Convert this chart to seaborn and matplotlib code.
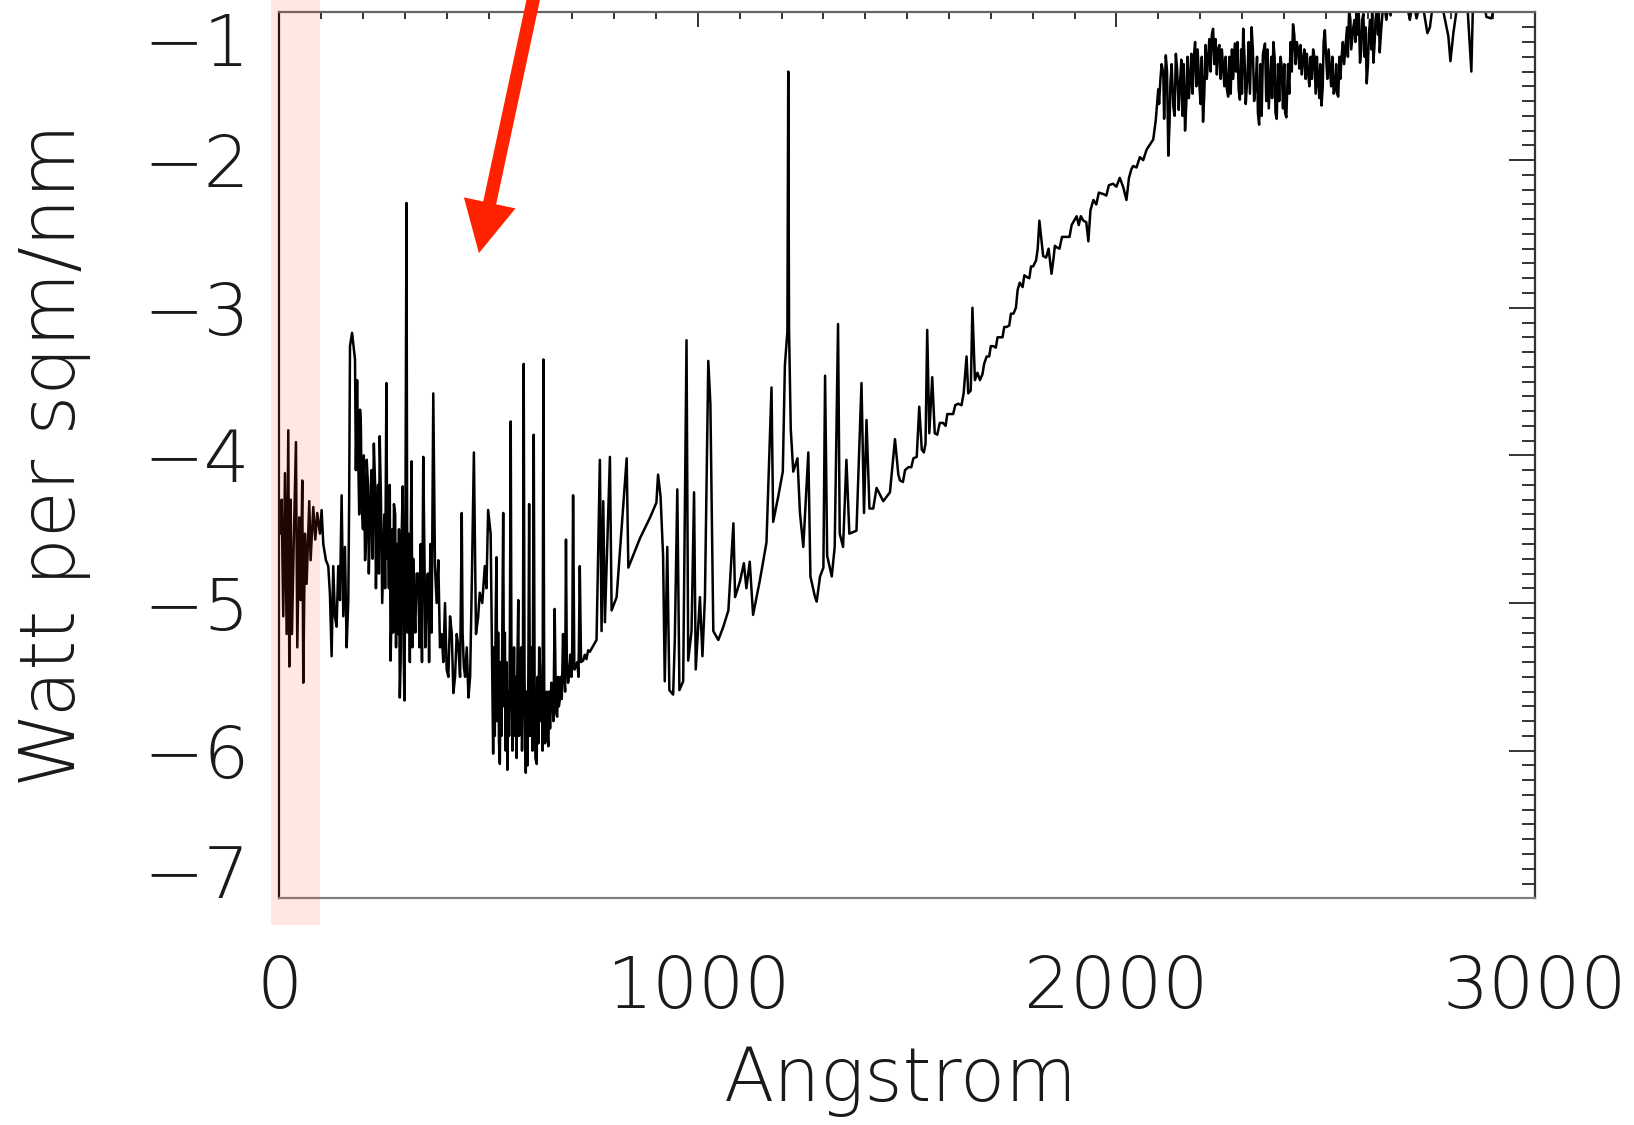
import numpy as np
import matplotlib
matplotlib.use("Agg")
import matplotlib.pyplot as plt
import matplotlib.font_manager as fm
import seaborn as sns
from matplotlib.patches import Rectangle

# ---------------- data ----------------
# wavelength in Angstrom, log10 irradiance (W per m^2 per nm)
wl_xray = [1.7, 5.7, 9.6, 13.6, 17.6, 21.6, 24, 27.2, 30.3, 35.1, 39.9, 43.1, 47.8, 51, 55,
           57.4, 61.4, 65.4, 71.7, 74.9, 81.3, 86.1, 90.8, 97.2, 101.2, 105.2, 111.5, 117.1,
           121.1, 125.1, 129, 133, 137, 141, 145, 149, 153, 157, 161, 165, 167]
fl_xray = [-4.53, -4.30, -5.09, -4.12, -5.21, -3.83, -5.43, -4.30, -5.21, -4.53, -3.91, -5.30,
           -4.42, -4.98, -4.17, -5.54, -4.53, -4.87, -4.31, -4.71, -4.35, -4.57, -4.39, -4.53,
           -4.37, -4.60, -4.71, -4.75, -4.94, -5.36, -4.75, -5.09, -5.16, -4.75, -4.98, -4.27,
           -5.09, -4.62, -5.30, -4.98, -4.30]

wl_euv = [169, 174, 181, 186, 193, 197, 205, 209, 217, 226, 233, 240, 248, 256, 260, 266, 274,
          284, 288, 295, 299, 304, 308, 316, 322, 332, 344, 352, 368, 372, 380, 388, 400, 408,
          416, 424, 436, 441, 452, 460, 465, 470, 479, 491, 499, 505, 511, 519, 527, 535, 545,
          553, 559, 571, 576, 584, 589, 597, 603, 608, 615, 623, 631, 637, 643, 650, 658, 664,
          670, 678, 685, 690, 702, 709, 718, 726, 738,
          183, 188, 191, 195, 200, 202, 207, 212, 214, 220, 223, 229, 231, 236, 238, 243, 246,
          251, 253, 258, 262, 264, 268, 270, 272, 277, 279, 281, 286, 290, 292, 297, 301, 306,
          310, 312, 314, 318, 320, 325, 328, 335, 338, 341, 347, 349, 355, 358, 361, 364, 376,
          384, 392, 396, 404, 412, 420, 428, 432, 438, 444, 448, 456, 475, 485, 495,
          513, 515, 517, 521, 523, 525, 529, 531, 533, 537, 539, 541, 543, 547, 549, 551, 555,
          557, 561, 563, 565, 567, 569, 573, 578, 580, 582, 586, 591, 593, 595, 599, 601, 605,
          610, 612, 617, 619, 621, 625, 627, 629, 633, 635, 639, 641, 645, 647, 652, 655, 660,
          662, 666, 668, 672, 675, 680, 683, 687, 692, 695, 698, 700, 705, 712, 715, 721, 730, 734]
fl_euv = [-3.26, -3.17, -3.35, -3.49, -3.69, -4.30, -4.71, -4.03, -4.42, -3.92, -4.53, -3.87,
          -4.75, -3.51, -4.53, -5.39, -4.33, -5.21, -5.64, -4.21, -5.66, -2.29, -4.53, -4.04,
          -4.98, -4.80, -4.01, -4.93, -3.58, -4.75, -4.71, -5.21, -5.45, -5.09, -5.61, -5.21,
          -4.39, -5.43, -5.64, -4.87, -3.98, -5.21, -4.93, -4.75, -4.37, -4.53, -6.02, -4.69,
          -6.09, -4.39, -6.13, -3.77, -5.66, -4.98, -5.88, -3.38, -6.15, -4.33, -5.77, -3.86,
          -6.09, -5.43, -3.35, -5.88, -5.97, -5.54, -5.04, -5.77, -5.66, -5.21, -4.57, -5.54,
          -4.27, -5.43, -4.75, -5.39, -5.32,
          -4.1, -3.9, -4.4, -3.8, -4.5, -4.0, -4.6, -4.2, -4.8, -4.1, -4.7, -4.2, -4.9, -4.2,
          -4.8, -4.3, -5.0, -4.4, -4.9, -4.7, -4.9, -4.2, -5.1, -4.5, -5.2, -4.4, -5.3, -4.6,
          -4.5, -5.4, -4.6, -5.3, -4.8, -5.2, -4.8, -5.4, -4.6, -5.3, -4.7, -5.2, -4.8, -5.3,
          -4.6, -5.4, -4.7, -5.3, -4.8, -5.4, -4.6, -5.2, -5.0, -5.3, -5.4, -5.0, -5.5, -5.2,
          -5.5, -5.3, -5.5, -5.2, -5.5, -5.3, -5.5, -5.1, -5.0, -4.9,
          -5.3, -5.9, -5.1, -5.8, -5.2, -5.95, -5.4, -5.9, -5.1, -5.7, -5.2, -6.0, -5.4, -5.6,
          -5.9, -5.2, -5.6, -6.0, -5.3, -5.9, -5.5, -6.05, -5.4, -5.9, -5.3, -6.0, -5.6, -5.5,
          -5.6, -6.1, -5.5, -5.9, -5.3, -6.0, -5.5, -6.05, -5.5, -5.95, -5.3, -5.8, -5.5, -6.0,
          -5.6, -5.95, -5.6, -5.9, -5.6, -5.85, -5.6, -5.8, -5.5, -5.75, -5.5, -5.7, -5.5, -5.65,
          -5.45, -5.6, -5.4, -5.5, -5.35, -5.5, -5.3, -5.45, -5.4, -5.5, -5.4, -5.35, -5.38]

wl_fuv = [742, 758, 766, 770, 774, 778, 790, 794, 806, 830, 834, 862, 886, 901, 905, 911, 917,
          921, 927, 932, 941, 945, 951, 956, 965, 973, 977, 985, 991, 995, 1005, 1011, 1017,
          1025, 1030, 1037, 1049, 1061, 1073, 1085, 1089, 1101, 1110, 1116, 1124, 1132, 1148,
          1164, 1176, 1180, 1192, 1203, 1208, 1214, 1216, 1218, 1222, 1228, 1238, 1244, 1252,
          1264, 1269, 1280, 1284, 1292, 1300, 1304, 1309, 1320, 1327, 1335, 1339, 1347, 1355,
          1362, 1379, 1391, 1397, 1403, 1410, 1419, 1427, 1443, 1459, 1471, 1479]
fl_fuv = [-5.33, -5.25, -4.03, -5.19, -4.31, -5.13, -4.01, -5.05, -4.96, -4.02, -4.76, -4.56,
          -4.42, -4.32, -4.13, -4.28, -4.68, -5.53, -4.62, -5.59, -5.62, -5.25, -4.23, -5.59,
          -5.53, -3.22, -5.39, -5.19, -4.25, -5.45, -4.96, -5.36, -4.96, -3.36, -3.65, -5.19,
          -5.25, -5.16, -5.05, -4.46, -4.96, -4.85, -4.73, -4.90, -4.72, -5.08, -4.85, -4.59,
          -3.54, -4.45, -4.28, -4.11, -3.39, -3.16, -1.40, -3.16, -3.82, -4.11, -4.02, -4.39,
          -4.62, -3.98, -4.82, -4.96, -4.99, -4.82, -4.76, -3.46, -4.68, -4.82, -4.62, -3.11,
          -4.53, -4.62, -4.03, -4.53, -4.51, -3.51, -4.39, -3.76, -4.36, -4.36, -4.22, -4.31,
          -4.25, -3.89, -4.13]

wl_nuv = [1483, 1503, 1523, 1529, 1535, 1548, 1553, 1560, 1566, 1586, 1602, 1622, 1642, 1646,
          1656, 1662, 1674, 1690, 1706, 1722, 1738, 1754, 1769, 1785, 1801, 1816, 1825, 1845,
          1857, 1881, 1905, 1921, 1933, 1945, 1969, 1992, 2024, 2040, 2072,
          1490, 1495, 1510, 1515, 1540, 1544, 1572, 1578, 1592, 1596, 1610, 1615, 1630, 1635,
          1652, 1668, 1680, 1684, 1696, 1700, 1712, 1716, 1728, 1732, 1744, 1748, 1760, 1764,
          1776, 1780, 1792, 1796, 1808, 1812, 1832, 1838, 1850, 1853, 1864, 1870, 1888, 1893,
          1910, 1915, 1928, 1938, 1952, 1958, 1976, 1982, 2000, 2008, 2016, 2030, 2036, 2048,
          2056, 2064]
fl_nuv = [-4.17, -4.08, -4.01, -3.67, -3.96, -3.15, -3.85, -3.47, -3.85, -3.78, -3.72, -3.65,
          -3.33, -3.58, -3.00, -3.49, -3.49, -3.33, -3.26, -3.20, -3.13, -3.04, -2.83, -2.79,
          -2.72, -2.41, -2.65, -2.77, -2.59, -2.52, -2.38, -2.41, -2.55, -2.27, -2.23, -2.16,
          -2.27, -2.04, -1.93,
          -4.18, -4.10, -4.08, -4.02, -3.98, -3.92, -3.86, -3.78, -3.80, -3.72, -3.72, -3.66,
          -3.66, -3.58, -3.56, -3.44, -3.45, -3.38, -3.33, -3.26, -3.27, -3.20, -3.20, -3.13,
          -3.12, -3.04, -3.00, -2.88, -2.86, -2.78, -2.80, -2.72, -2.68, -2.60, -2.66, -2.60,
          -2.66, -2.58, -2.60, -2.52, -2.52, -2.44, -2.44, -2.38, -2.42, -2.34, -2.30, -2.22,
          -2.24, -2.17, -2.18, -2.12, -2.18, -2.12, -2.06, -2.05, -1.98, -2.00]

wl_mid = [2088, 2094, 2100, 2105, 2112, 2118, 2124, 2129, 2136, 2142, 2152, 2164, 2176, 2188,
          2198, 2207, 2219, 2231, 2243, 2255, 2267, 2283, 2295, 2303, 2313, 2323, 2333, 2341,
          2355, 2367, 2375, 2383, 2395, 2406, 2422, 2434, 2446, 2458, 2470, 2482, 2490, 2498,
          2510, 2522, 2530, 2538, 2548, 2556, 2566, 2574, 2582, 2590, 2598, 2606, 2614, 2622,
          2629, 2637, 2661, 2693, 2701, 2709, 2717, 2729, 2743, 2749, 2757, 2773, 2793, 2798,
          2805, 2817, 2837, 2848, 2852, 2876, 2884, 2896, 2908, 2932, 3000,
          2102, 2108, 2114, 2121, 2127, 2132, 2139, 2145, 2149, 2155, 2158, 2161, 2167, 2170,
          2173, 2179, 2182, 2185, 2191, 2194, 2201, 2204, 2210, 2213, 2216, 2222, 2225, 2228,
          2234, 2237, 2240, 2246, 2249, 2252, 2258, 2261, 2264, 2270, 2273, 2276, 2279, 2286,
          2289, 2292, 2298, 2300, 2306, 2309, 2316, 2319, 2326, 2329, 2336, 2338, 2344, 2347,
          2350, 2358, 2361, 2364, 2370, 2372, 2378, 2380, 2386, 2389, 2392, 2398, 2401, 2403,
          2410, 2413, 2416, 2419, 2425, 2428, 2431, 2437, 2440, 2443, 2449, 2452, 2455, 2461,
          2464, 2467, 2473, 2476, 2479, 2485, 2487, 2493, 2495, 2501, 2504, 2507, 2513, 2516,
          2519, 2525, 2527, 2533, 2535, 2541, 2544, 2551, 2553, 2559, 2561, 2569, 2571, 2577,
          2579, 2585, 2587, 2593, 2595, 2601, 2603, 2609, 2611, 2617, 2619, 2625, 2627, 2633,
          2640, 2645, 2650, 2655]
fl_mid = [-1.86, -1.73, -1.52, -1.46, -1.41, -1.29, -1.97, -1.48, -1.64, -1.28, -1.48, -1.80,
          -1.46, -1.20, -1.48, -1.74, -1.32, -1.11, -1.25, -1.37, -1.57, -1.21, -1.59, -1.11,
          -1.43, -1.10, -1.48, -1.76, -1.21, -1.48, -1.20, -1.72, -1.37, -1.71, -1.08, -1.25,
          -1.32, -1.41, -1.25, -1.48, -1.63, -1.12, -1.37, -1.52, -1.57, -1.30, -1.21, -0.98,
          -1.10, -0.96, -1.34, -1.01, -1.48, -1.05, -1.34, -0.98, -1.27, -0.96, -0.90, -0.93,
          -1.05, -0.92, -1.04, -0.90, -1.14, -1.10, -0.92, -0.88, -1.16, -1.33, -1.14, -0.90,
          -0.88, -1.40, -0.92, -0.90, -1.03, -1.04, -0.90, -0.88, -0.88,
          -1.62, -1.35, -1.72, -1.40, -1.75, -1.35, -1.70, -1.38, -1.66, -1.32, -1.70, -1.35,
          -1.62, -1.30, -1.58, -1.28, -1.55, -1.30, -1.50, -1.25, -1.62, -1.30, -1.55, -1.22,
          -1.45, -1.18, -1.40, -1.15, -1.35, -1.18, -1.42, -1.22, -1.45, -1.25, -1.50, -1.30,
          -1.52, -1.30, -1.55, -1.25, -1.45, -1.40, -1.20, -1.52, -1.25, -1.55, -1.30, -1.62,
          -1.20, -1.55, -1.25, -1.60, -1.30, -1.68, -1.35, -1.70, -1.28, -1.60, -1.25, -1.65,
          -1.30, -1.58, -1.30, -1.68, -1.35, -1.60, -1.30, -1.65, -1.35, -1.68, -1.35, -1.55,
          -1.20, -1.40, -1.15, -1.35, -1.20, -1.38, -1.22, -1.42, -1.25, -1.45, -1.28, -1.50,
          -1.30, -1.45, -1.30, -1.55, -1.30, -1.58, -1.35, -1.50, -1.20, -1.30, -1.45, -1.25,
          -1.50, -1.30, -1.55, -1.35, -1.55, -1.30, -1.45, -1.20, -1.35, -1.10, -1.30, -1.05,
          -1.25, -1.05, -1.20, -1.15, -1.00, -1.25, -1.05, -1.30, -1.10, -1.35, -1.15, -1.25,
          -1.00, -1.20, -1.05, -1.15, -1.00, -1.10, -0.95, -1.05, -0.93, -1.02]

x_ticks = [0, 1000, 2000, 3000]
y_ticks = [-7, -6, -5, -4, -3, -2, -1]
x_label = "Angstrom"
y_label = "Watt per sqm/nm"

# ---------------- assemble ----------------
wl = np.concatenate([wl_xray, wl_euv, wl_fuv, wl_nuv, wl_mid]).astype(float)
fl = np.concatenate([fl_xray, fl_euv, fl_fuv, fl_nuv, fl_mid]).astype(float)
order = np.argsort(wl, kind="stable")
wl, fl = wl[order], fl[order]

# ---------------- font choice: a thin, wide sans ----------------
def pick_font():
    prefs = [("DejaVu Sans", 200, 1.0, True), ("Open Sans", 300, 1.06, False),
             ("Roboto", 300, 1.06, False), ("Lato", 300, 1.12, False)]
    for name, w, scale, dv in prefs:
        for f in fm.fontManager.ttflist:
            if f.name == name and f.weight == w and f.style == "normal":
                return name, w, scale, dv
    return "DejaVu Sans", "normal", 1.0, True

fam, fw, fscale, is_dv = pick_font()
tick_size = 52 * fscale
xlab_size = 53 * fscale
ylab_size = 55 * fscale

sns.set_style("white")
plt.rcParams["font.family"] = [fam, "DejaVu Sans"]
plt.rcParams["font.weight"] = fw
plt.rcParams["axes.unicode_minus"] = True

fig = plt.figure(figsize=(16.34, 11.25), dpi=100)
ax = fig.add_axes([0.1709, 0.2015, 0.7685, 0.7874])

sns.lineplot(x=wl, y=fl, ax=ax, color="black", lw=1.8, sort=False, estimator=None)

ax.set_xlim(0, 3000)
ax.set_ylim(-7, -1)
ax.set_xticks(x_ticks)
ax.set_xticks(np.arange(0, 3001, 100), minor=True)
ax.set_yticks(y_ticks)
ax.set_yticks(np.arange(-7, -0.95, 0.1), minor=True)
ax.set_xticklabels([str(v) for v in x_ticks])
minus = "\u2212" if is_dv else "\u2013 "
ax.set_yticklabels([minus + "%d" % abs(v) for v in y_ticks])

ax.tick_params(axis="both", which="both", direction="in", top=True, right=True,
               colors="#111111", labelcolor="#1a1a1a", width=1.2)
ax.tick_params(axis="x", which="major", length=10.5, pad=40, labelsize=tick_size)
ax.tick_params(axis="x", which="minor", length=5)
ax.tick_params(axis="y", which="major", length=19, pad=21, labelsize=tick_size)
ax.tick_params(axis="y", which="minor", length=9.5)
for lab in ax.get_xticklabels() + ax.get_yticklabels():
    lab.set_fontweight(fw)

labs = ax.get_yticklabels()
labs[0].set_va("baseline")
labs[-1].set_va("top")

for side, col in [("left", "#111111"), ("right", "#333333"), ("top", "#666666"), ("bottom", "#808080")]:
    ax.spines[side].set_color(col)
    ax.spines[side].set_linewidth(1.6)

ax.set_xlabel(x_label, fontsize=xlab_size, color="#1a1a1a", fontweight=fw)
ax.set_ylabel(y_label, fontsize=ylab_size, color="#1a1a1a", fontweight=fw)
ax.xaxis.set_label_coords(0.495, -0.165)
ax.yaxis.set_label_coords(-0.150, 0.5)

# red arrow pointing into the EUV region
ax.annotate("", xy=(477, -2.63), xytext=(632, -0.58), xycoords="data", textcoords="data",
            arrowprops=dict(facecolor="#ff2200", edgecolor="none", width=9.5,
                            headwidth=38, headlength=37, shrink=0),
            annotation_clip=False)

# pink highlight band over the x-ray end
rect = Rectangle((271 / 1634, 1 - 925 / 1125), 49 / 1634, 925 / 1125 + 0.02,
                 transform=fig.transFigure, facecolor="#ff3b1f", alpha=0.12,
                 edgecolor="none", zorder=5)
fig.add_artist(rect)

fig.savefig("out.png", dpi=100)
